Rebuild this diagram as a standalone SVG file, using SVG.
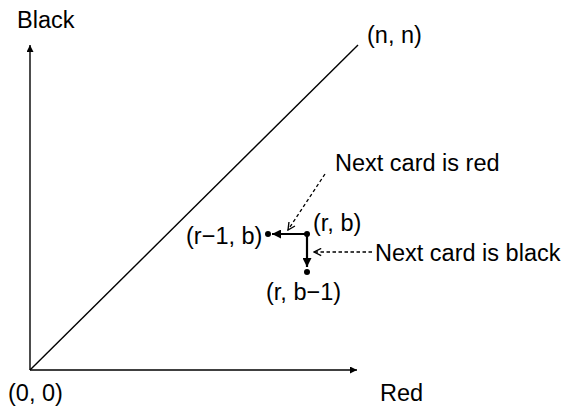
<svg xmlns="http://www.w3.org/2000/svg" width="572" height="407" viewBox="0 0 572 407">
<style>
text{font-family:"Liberation Sans",Arial,sans-serif;font-size:23.5px;fill:#000}
.ax{stroke:#000;stroke-width:1.4;fill:none}
.mv{stroke:#000;stroke-width:2.2;fill:none}
.dash{stroke:#000;stroke-width:1.3;fill:none;stroke-dasharray:3.5 2.5}
</style>
<defs>
<marker id="ah" viewBox="0 0 10 10" refX="10" refY="5" markerWidth="7" markerHeight="7" markerUnits="userSpaceOnUse" orient="auto">
<path d="M0,0 L10,5 L0,10 z" fill="#000"/>
</marker>
<marker id="ahm" viewBox="0 0 10 10" refX="10" refY="5" markerWidth="9" markerHeight="9" markerUnits="userSpaceOnUse" orient="auto">
<path d="M0,0 L10,5 L0,10 z" fill="#000"/>
</marker>
<marker id="ao" viewBox="0 0 10 10" refX="9" refY="5" markerWidth="9" markerHeight="9" markerUnits="userSpaceOnUse" orient="auto">
<path d="M1,1 L9,5 L1,9" fill="none" stroke="#000" stroke-width="1.5"/>
</marker>
</defs>
<g id="connectors">
<line class="ax" x1="30" y1="370" x2="30" y2="45" marker-end="url(#ah)"/>
<line class="ax" x1="30" y1="370" x2="357" y2="370" marker-end="url(#ah)"/>
<line class="ax" x1="30" y1="370" x2="358" y2="45"/>
<line class="mv" x1="307" y1="234" x2="272" y2="234" marker-end="url(#ahm)"/>
<line class="mv" x1="307" y1="234" x2="307" y2="267" marker-end="url(#ahm)"/>
<line class="dash" x1="325" y1="174" x2="288" y2="230" marker-end="url(#ao)"/>
<line class="dash" x1="372" y1="252" x2="314" y2="252" marker-end="url(#ao)"/>
</g>
<g id="node-origin"><text x="8" y="401">(0, 0)</text></g>
<g id="node-black"><text x="17" y="28">Black</text></g>
<g id="node-red"><text x="380" y="401">Red</text></g>
<g id="node-nn"><text x="367" y="43">(n, n)</text></g>
<g id="node-rb"><circle cx="307" cy="234" r="3"/><text x="313" y="231">(r, b)</text></g>
<g id="node-r1b"><circle cx="268" cy="234" r="3"/><text x="186" y="244">(r−1, b)</text></g>
<g id="node-rb1"><circle cx="307" cy="272" r="3"/><text x="266" y="300">(r, b−1)</text></g>
<g id="label-red"><text x="335" y="171">Next card is red</text></g>
<g id="label-black"><text x="375" y="261">Next card is black</text></g>
</svg>
